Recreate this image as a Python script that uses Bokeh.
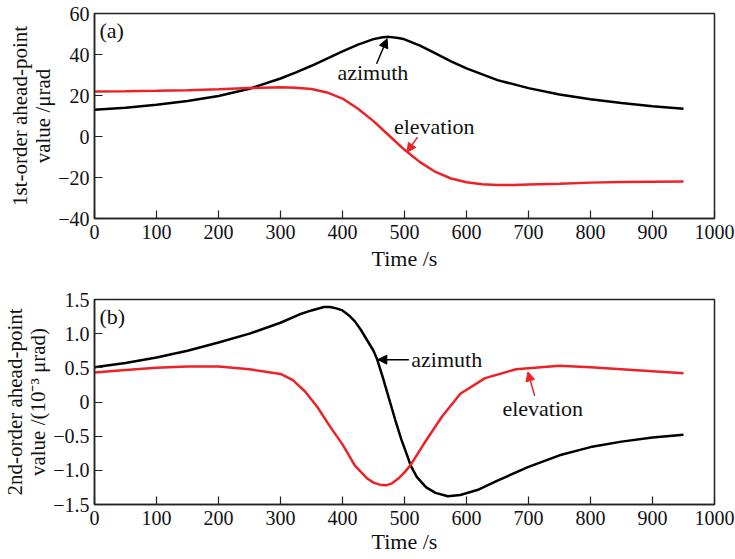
from bokeh.plotting import figure
from bokeh.layouts import column
from bokeh.models import FixedTicker, Range1d, Label, Arrow, NormalHead
from bokeh.embed import file_html
from bokeh.resources import INLINE

# ---------------- data ----------------
# panel (a): 1st-order ahead-point value / urad
t_a_az = [0, 50, 100, 150, 200, 250, 300, 325, 350, 375, 400, 425, 450, 465, 475, 490,
          500, 525, 550, 575, 600, 650, 700, 750, 800, 850, 900, 950]
az_a = [13.0, 14.0, 15.5, 17.3, 19.8, 23.3, 28.3, 31.3, 34.5, 38.0, 41.5, 44.8, 47.5,
        48.4, 48.6, 48.0, 47.4, 44.3, 40.5, 36.7, 33.2, 27.5, 23.6, 20.5, 18.2, 16.3,
        14.8, 13.5]
t_a_el = [0, 50, 100, 150, 200, 250, 300, 325, 350, 375, 400, 425, 450, 475, 500, 525,
          550, 575, 600, 625, 650, 675, 700, 750, 800, 850, 900, 950]
el_a = [22.0, 22.1, 22.3, 22.6, 23.0, 23.6, 24.0, 23.8, 23.2, 21.5, 18.5, 13.5, 7.5,
        0.5, -6.5, -12.5, -17.3, -20.5, -22.3, -23.3, -23.6, -23.6, -23.4, -23.0, -22.5,
        -22.2, -22.1, -22.0]

# panel (b): 2nd-order ahead-point value / (1e-3 urad)
t_b_az = [0, 50, 100, 150, 200, 250, 300, 330, 350, 370, 380, 390, 400, 410, 420, 430,
          440, 450, 456, 465, 475, 485, 495, 505, 510, 520, 535, 550, 570, 590, 620,
          650, 700, 750, 800, 850, 900, 950]
az_b = [0.51, 0.57, 0.65, 0.75, 0.87, 1.00, 1.16, 1.28, 1.34, 1.39, 1.39, 1.37, 1.34,
        1.27, 1.18, 1.05, 0.90, 0.75, 0.62, 0.36, 0.05, -0.26, -0.55, -0.80, -0.93,
        -1.10, -1.25, -1.33, -1.38, -1.36, -1.28, -1.15, -0.95, -0.78, -0.66, -0.58,
        -0.52, -0.48]
t_b_el = [0, 50, 100, 150, 200, 250, 300, 320, 340, 360, 380, 400, 420, 440, 450, 460,
          470, 480, 490, 500, 510, 530, 560, 590, 630, 680, 750, 800, 850, 900, 950]
el_b = [0.43, 0.47, 0.50, 0.52, 0.52, 0.48, 0.41, 0.32, 0.15, -0.08, -0.36, -0.62,
        -0.93, -1.12, -1.18, -1.21, -1.22, -1.19, -1.12, -1.03, -0.92, -0.63, -0.22,
        0.12, 0.35, 0.48, 0.53, 0.51, 0.48, 0.45, 0.42]

x_ticks = [0, 100, 200, 300, 400, 500, 600, 700, 800, 900, 1000]
ya_ticks = [-40, -20, 0, 20, 40, 60]
ya_labels = ["\u221240", "\u221220", "0", "20", "40", "60"]
yb_ticks = [-1.5, -1.0, -0.5, 0, 0.5, 1.0, 1.5]
yb_labels = ["\u22121.5", "\u22121.0", "\u22120.5", "0", "0.5", "1.0", "1.5"]

FONT = "Liberation Serif"
FS_TICK = "20px"
FS_TEXT = "22px"
FS_YLAB = "21px"
BLACK = "#000000"
RED = "#ec2227"
TXT = "#111111"


def make_fig(fh, top, bottom, yr, yticks, ylabels, ylabel, x_std, xl_std):
    p = figure(frame_width=620, frame_height=fh,
               x_range=Range1d(0, 1000), y_range=Range1d(*yr),
               output_backend="svg", toolbar_location=None,
               min_border_left=92, min_border_right=23,
               min_border_top=top, min_border_bottom=bottom)
    p.grid.visible = False
    p.outline_line_color = "#222222"
    p.outline_line_width = 1.5
    p.outline_line_alpha = 1.0
    for ax in (p.xaxis[0], p.yaxis[0]):
        ax.axis_line_color = "#222222"
        ax.axis_line_width = 1.5
        ax.major_tick_in = 8
        ax.major_tick_out = 0
        ax.major_tick_line_width = 1.2
        ax.major_tick_line_color = "#222222"
        ax.minor_tick_line_color = None
        ax.major_label_text_font = FONT
        ax.major_label_text_font_size = FS_TICK
        ax.major_label_text_color = TXT
        ax.axis_label_text_font = FONT
        ax.axis_label_text_font_style = "normal"
        ax.axis_label_text_color = TXT
    p.xaxis.ticker = FixedTicker(ticks=x_ticks)
    p.xaxis.major_label_standoff = x_std
    p.xaxis.axis_label = "Time /s"
    p.xaxis.axis_label_text_font_size = FS_TEXT
    p.xaxis.axis_label_standoff = xl_std
    p.yaxis.ticker = FixedTicker(ticks=yticks)
    p.yaxis.major_label_overrides = {t: l for t, l in zip(yticks, ylabels)}
    p.yaxis.major_label_standoff = 5
    p.yaxis.axis_label = ylabel
    p.yaxis.axis_label_text_font_size = FS_YLAB
    p.yaxis.axis_label_standoff = 0
    p.yaxis.axis_label_text_line_height = 0.95
    return p


def text(p, x, y, s, align="center", color=TXT):
    p.add_layout(Label(x=x, y=y, text=s, text_font=FONT, text_font_size=FS_TEXT,
                       text_align=align, text_baseline="middle", text_color=color))


def arrow(p, x0, y0, x1, y1, color):
    p.add_layout(Arrow(x_start=x0, y_start=y0, x_end=x1, y_end=y1,
                       line_color=color, line_width=1.5,
                       end=NormalHead(size=9, fill_color=color, line_color=color)))


# ---------------- panel (a) ----------------
pa = make_fig(205, 13, 56, (-40, 60), ya_ticks, ya_labels,
              "1st-order ahead-point\nvalue /\u03bcrad", 6, 4)
pa.line(t_a_az, az_a, line_color=BLACK, line_width=2.5)
pa.line(t_a_el, el_a, line_color=RED, line_width=2.5)
text(pa, 8, 51.7, "(a)", align="left")
text(pa, 449, 31.0, "azimuth")
arrow(pa, 455, 35.5, 472, 47.7, BLACK)
text(pa, 548, 4.9, "elevation")
arrow(pa, 521, -0.3, 504, -7.7, RED)

# ---------------- panel (b) ----------------
pb = make_fig(205, 25, 55, (-1.5, 1.5), yb_ticks, yb_labels,
              "2nd-order ahead-point\nvalue /(10\u207b\u00b3 \u03bcrad)", 6, 1)
pb.line(t_b_az, az_b, line_color=BLACK, line_width=2.5)
pb.line(t_b_el, el_b, line_color=RED, line_width=2.5)
text(pb, 8, 1.25, "(b)", align="left")
text(pb, 511, 0.62, "azimuth", align="left")
arrow(pb, 507, 0.62, 457, 0.62, BLACK)
text(pb, 723, -0.09, "elevation")
arrow(pb, 710, 0.09, 699, 0.44, RED)

layout = column(pa, pb, spacing=0)
open("out.html", "w").write(file_html(layout, INLINE))
